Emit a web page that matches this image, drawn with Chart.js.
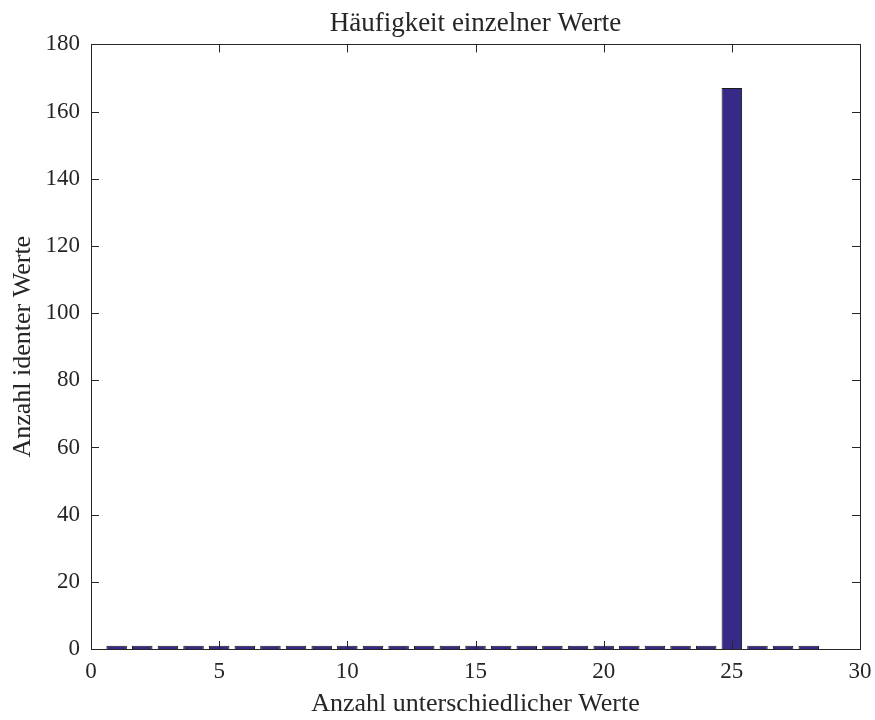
<!DOCTYPE html>
<html>
<head>
<meta charset="utf-8">
<script src="https://cdn.jsdelivr.net/npm/chart.js@4/dist/chart.umd.min.js"></script>
<style>
html,body{margin:0;padding:0;background:#fff;}
#wrap{width:875px;height:720px;}
</style>
</head>
<body>
<div id="wrap"><canvas id="c" width="875" height="720"></canvas></div>
<script>
const chartTitle = "Häufigkeit einzelner Werte";
const xTitle = "Anzahl unterschiedlicher Werte";
const yTitle = "Anzahl identer Werte";
const xValues = [1,2,3,4,5,6,7,8,9,10,11,12,13,14,15,16,17,18,19,20,21,22,23,24,25,26,27,28];
const counts  = [1,1,1,1,1,1,1,1,1,1,1,1,1,1,1,1,1,1,1,1,1,1,1,1,167,1,1,1];
const xTicksRange = {min:0, max:30, step:5};
const yTicksRange = {min:0, max:180, step:20};

const FONT = "'Liberation Serif', 'DejaVu Serif', serif";
const INK = '#262626';

const boxTicks = {
  id:'boxTicks',
  afterDraw(chart){
    const {ctx, chartArea:{left,right,top,bottom}, scales:{x,y}} = chart;
    ctx.save();
    ctx.strokeStyle = INK;
    ctx.lineWidth = 1;
    const L = 8;
    ctx.beginPath();
    x.ticks.forEach(t=>{
      const px = Math.round(x.getPixelForValue(t.value))+0.5;
      ctx.moveTo(px,bottom); ctx.lineTo(px,bottom-L);
      ctx.moveTo(px,top); ctx.lineTo(px,top+L);
    });
    y.ticks.forEach(t=>{
      const py = Math.round(y.getPixelForValue(t.value))+0.5;
      ctx.moveTo(left,py); ctx.lineTo(left+L,py);
      ctx.moveTo(right,py); ctx.lineTo(right-L,py);
    });
    ctx.stroke();
    ctx.strokeRect(Math.round(left)+0.5, Math.round(top)+0.5, Math.round(right-left), Math.round(bottom-top));
    ctx.restore();
  }
};

new Chart(document.getElementById('c'), {
  type:'bar',
  data:{
    datasets:[{
      data: xValues.map((v,i)=>({x:v, y:counts[i]})),
      backgroundColor:'#352a87',
      borderColor:'#1a1a1a',
      borderWidth:1,
      barPercentage:0.8,
      categoryPercentage:1.0
    }]
  },
  options:{
    responsive:false,
    animation:false,
    layout:{padding:{left:0,right:15,top:0,bottom:0}},
    plugins:{
      legend:{display:false},
      tooltip:{enabled:false},
      title:{
        display:true,
        fullSize:false,
        text:chartTitle,
        color:INK,
        font:{family:FONT,size:27,weight:'normal'},
        padding:{top:8,bottom:4}
      }
    },
    scales:{
      x:{
        type:'linear',
        min:xTicksRange.min, max:xTicksRange.max,
        offset:false,
        grid:{display:false},
        border:{display:false},
        ticks:{stepSize:xTicksRange.step,color:INK,font:{family:FONT,size:23},padding:1,maxRotation:0},
        title:{display:true,text:xTitle,color:INK,font:{family:FONT,size:26},padding:{top:0,bottom:0}},
        afterFit(s){ s.height = 71; }
      },
      y:{
        min:yTicksRange.min, max:yTicksRange.max,
        grid:{display:false},
        border:{display:false},
        ticks:{stepSize:yTicksRange.step,color:INK,font:{family:FONT,size:23},padding:3},
        title:{display:true,text:yTitle,color:INK,font:{family:FONT,size:26},padding:{top:8,bottom:0}},
        afterFit(s){ s.width = 91; }
      }
    }
  },
  plugins:[boxTicks]
});
</script>
</body>
</html>
